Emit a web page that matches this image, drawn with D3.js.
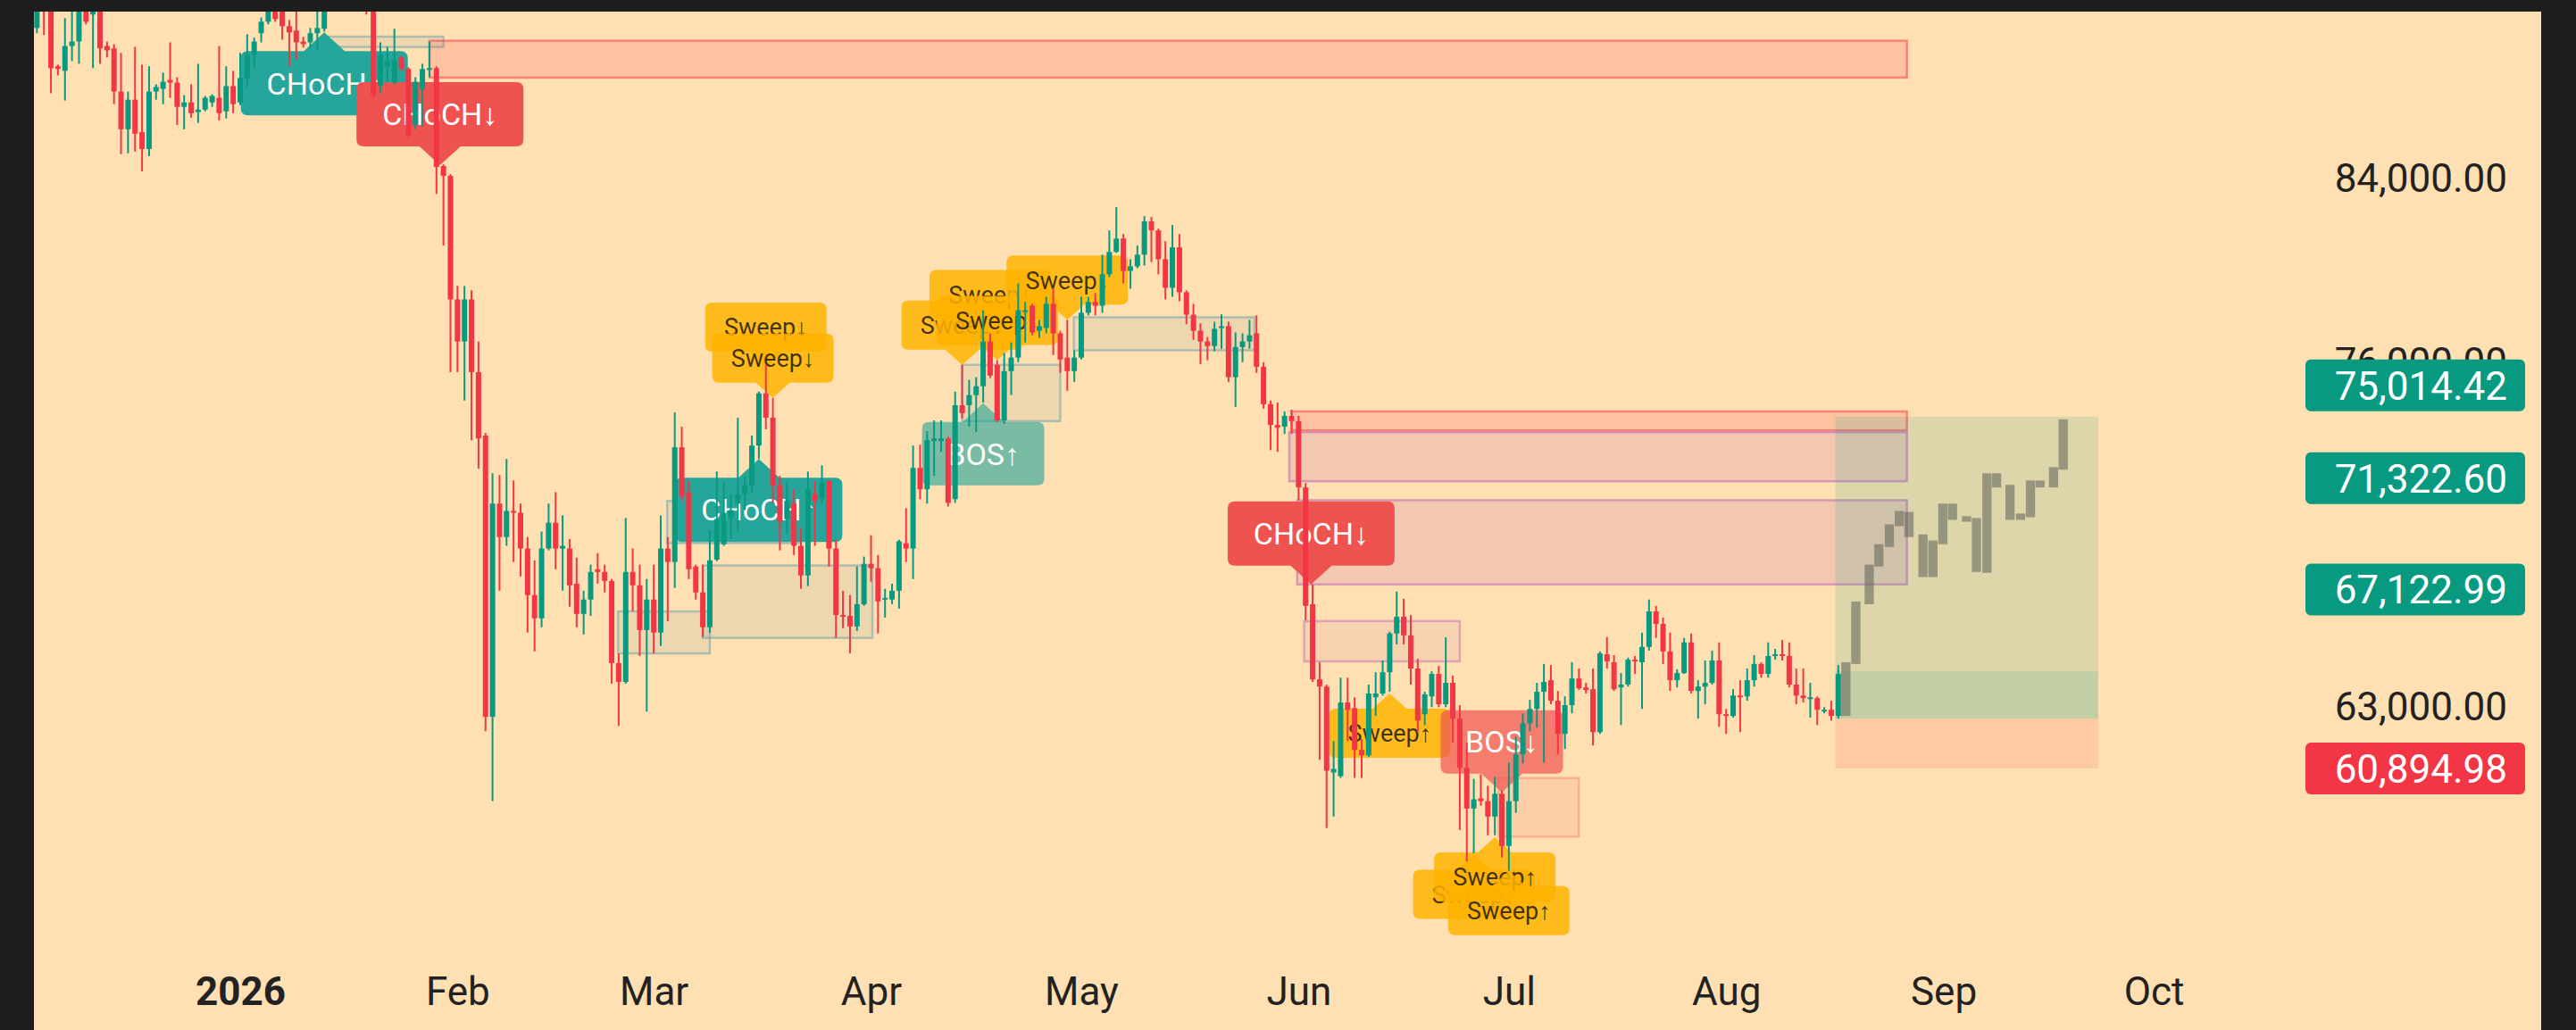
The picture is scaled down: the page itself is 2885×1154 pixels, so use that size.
<!DOCTYPE html>
<html>
<head>
<meta charset="utf-8">
<script src="https://cdn.jsdelivr.net/npm/d3@7"></script>
<style>
  html, body { margin: 0; padding: 0; background: #1e1e1e; }
  svg { display: block; font-family: Roboto, 'Noto Sans', sans-serif; }
</style>
</head>
<body>
<svg id="chart"></svg>
<script>
// daily bars, first bar 2025-12-03
const firstBar = Date.UTC(2025, 11, 3);

const open = [
  // Dec 3 - Dec 31
  91130, 92470, 92110, 89250, 89030, 90240, 90460, 92200, 91800, 92020,
  90240, 90120, 88030, 86240, 87640, 86110, 85320, 88030, 88160, 88590,
  88460, 87300, 87510, 87050, 87170, 87510, 87730, 87090, 88290,
  // Jan
  87510, 88680, 89810, 90870, 91440, 92200, 91970, 91220, 91000, 90460,
  90420, 90870, 91090, 92200, 94000, 95200, 94600, 93200, 92900, 92330,
  88290, 89250, 88460, 89680, 89120, 86450, 88160, 89120, 89160, 84530, 84080,
  // Feb
  78610, 76830, 78610, 75560, 72990, 62630, 70340, 69070, 70060, 69990,
  68640, 66920, 66080, 68640, 69610, 68640, 68640, 67340, 66240, 66760,
  67870, 67770, 67440, 64490, 63830, 67770, 67280, 65660,
  // Mar
  66760, 65570, 68640, 68140, 72530, 70780, 67970, 67020, 65760, 68230,
  68800, 69820, 70340, 70710, 71030, 72600, 74690, 73710, 71060, 69750,
  70340, 68740, 67640, 70710, 70540, 71200, 68640, 66200, 66170, 65790, 66590,
  // Apr
  68070, 67910, 66760, 66760, 67080, 68840, 68640, 71720, 70890, 72780,
  72780, 72880, 70510, 74210, 74210, 74620, 74980, 76830, 75860, 73600,
  75600, 76160, 78120, 78340, 77280, 77400, 78420, 77170, 76160, 75600,
  // May
  76160, 78040, 78500, 78340, 79690, 80670, 81260, 79840, 80040, 80550,
  82020, 81620, 80350, 79110, 80870, 78920, 77960, 77280, 76830, 76640,
  77400, 77470, 75350, 76600, 76830, 77170, 75780, 74250, 73420, 73350, 73780,
  // Jun
  73570, 70960, 66590, 63920, 63670, 60760, 60640, 63120, 62930, 61510,
  61330, 63300, 63430, 64170, 65540, 66140, 65470, 64300, 62720, 63330,
  64110, 63060, 63800, 62570, 60910, 59580, 59910, 59820, 59320, 60060,
  // Jul
  58380, 59820, 61360, 62410, 62900, 63490, 63890, 63180, 62050, 63030,
  63950, 63640, 63580, 62110, 64800, 64520, 63640, 63740, 64610, 64520,
  65060, 66330, 65880, 64900, 63890, 64140, 65220, 63520, 63670, 63800, 64580,
  // Aug 1 - Aug 17
  62720, 62660, 63360, 63330, 63890, 64460, 64110, 64740, 64800, 64740,
  63740, 63360, 63240, 63270, 62810, 62870, 62660
];

const high = [
  92470, 92780, 92330, 89330, 91620, 91970, 92330, 92420, 92330, 92200,
  90460, 90330, 89900, 88030, 90200, 89330, 89250, 88380, 88940, 90420,
  88720, 87860, 88380, 89370, 87820, 87900, 90240, 89250, 89030,
  89900, 90820, 90650, 91660, 92470, 92470, 92330, 91530, 91970, 90690,
  91130, 91970, 92560, 94500, 96000, 95800, 95100, 93800, 93500, 92560,
  90420, 90200, 91090, 89770, 89200, 88720, 89370, 90460, 89250, 84610, 84160,
  79190, 79190, 79000, 76830, 73100, 71510, 71440, 72070, 71230, 70340,
  69070, 68200, 69280, 70340, 70780, 69890, 69000, 68300, 67080, 68040,
  68470, 68040, 67510, 64830, 69790, 68640, 68040, 67510,
  68040, 69890, 69070, 73920, 73350, 71230, 68040, 68040, 69340, 71580,
  71130, 70680, 73710, 71370, 72990, 74760, 75860, 74510, 71410, 71200,
  70890, 69410, 71580, 71200, 71820, 71230, 68970, 67080, 66920, 67970, 68340,
  69140, 68400, 67150, 67340, 68970, 70160, 72600, 72630, 73170, 73600,
  73600, 72960, 74760, 75860, 75240, 75350, 78150, 77170, 76050, 76350,
  76790, 79300, 78500, 78420, 77740, 78720, 79110, 77280, 77740, 76460,
  78720, 78720, 78880, 80550, 81620, 82660, 81460, 80350, 80950, 82260,
  82220, 81700, 81140, 81860, 81460, 79000, 78420, 77590, 77020, 77660,
  77970, 77660, 77210, 77170, 77740, 77930, 75970, 74400, 74320, 73960, 74030,
  73780, 71130, 67310, 64520, 63740, 61810, 63980, 63980, 63300, 61870,
  63740, 64170, 64580, 65600, 67050, 66790, 66200, 64640, 63490, 64200,
  64390, 65400, 64050, 63030, 61750, 60550, 60700, 60320, 60610, 60170,
  61090, 61960, 62750, 63210, 63800, 64460, 64420, 63520, 63330, 64520,
  64300, 63800, 64300, 64900, 65410, 64770, 64140, 64680, 64740, 65570,
  66760, 66530, 66110, 65570, 64270, 65380, 65540, 63890, 64580, 64930, 65220,
  62900, 63580, 63890, 64300, 64770, 64520, 65220, 64990, 65310, 65220,
  64300, 64300, 63800, 63330, 62960, 63180, 64420
];

const low = [
  90870, 90780, 87950, 88810, 87600, 89500, 89370, 91310, 89160, 89370,
  89680, 87430, 85080, 85120, 85200, 84290, 84990, 87640, 87430, 87730,
  86450, 86240, 86790, 86540, 87090, 87300, 86660, 86750, 87000,
  87380, 88250, 89160, 90420, 91310, 91440, 90550, 89250, 89590, 90160,
  90120, 90030, 90950, 92000, 93500, 93900, 92600, 92500, 91800, 87730,
  87950, 88460, 88380, 89030, 85820, 86240, 86370, 88720, 83260, 80950, 75560,
  75560, 74400, 72810, 71690, 62140, 59820, 67080, 68740, 68140, 67610,
  65570, 64900, 65760, 68570, 67870, 67080, 66500, 65760, 65500, 66170,
  67340, 67020, 63770, 62320, 63770, 66330, 64740, 62810,
  64830, 65090, 65980, 67180, 70440, 67510, 66760, 65410, 65570, 68170,
  68740, 69000, 69310, 70090, 70780, 72070, 73240, 70340, 68570, 69170,
  68400, 67150, 67250, 68740, 70340, 67970, 65380, 65730, 64830, 65630, 66530,
  67410, 65540, 66110, 66590, 66430, 68140, 67510, 70510, 70340, 71410,
  72350, 70230, 70370, 73670, 73350, 73130, 74320, 75310, 73530, 73460,
  74620, 75970, 76790, 77090, 76980, 77170, 76270, 75530, 74800, 75160,
  76080, 77930, 77930, 78040, 79570, 80630, 79300, 79070, 79960, 80070,
  80230, 79690, 78610, 78720, 78530, 77550, 76900, 75890, 76050, 76420,
  76530, 75160, 74140, 75970, 76530, 75530, 74070, 72420, 72350, 73060, 73060,
  70470, 66010, 63830, 61180, 58950, 59320, 60580, 61810, 60580, 60580,
  61270, 62660, 63360, 63490, 65150, 65150, 63740, 62110, 62350, 62960,
  62960, 62960, 61750, 58890, 57890, 58150, 59670, 58720, 58720, 58010,
  57590, 59440, 61060, 62140, 62260, 61090, 63060, 61360, 61540, 62750,
  63550, 63430, 61660, 62050, 64300, 63520, 62350, 63670, 64110, 62900,
  64930, 65380, 64460, 63520, 63640, 64110, 63430, 62570, 63060, 63740, 62290,
  62050, 62600, 62110, 63180, 63670, 63980, 63980, 64610, 64580, 63640,
  63060, 63120, 62600, 62350, 62750, 62500, 62570
];

const close = [
  92200, 92020, 89160, 89120, 90240, 90460, 92110, 91440, 92110, 90120,
  90030, 88030, 86240, 87640, 86030, 85320, 88030, 88250, 88500, 88460,
  87300, 87510, 87000, 87170, 87730, 87820, 87000, 88290, 87430,
  88680, 89810, 90460, 91440, 92200, 91570, 91220, 90910, 90420, 90330,
  90870, 91130, 92200, 94000, 95200, 94600, 93200, 92900, 92330, 87860,
  89810, 89460, 89550, 89120, 85950, 88500, 89120, 89160, 84490, 84080, 78610,
  76830, 78610, 75560, 72880, 62630, 70340, 69070, 70060, 69990, 68640,
  66920, 66080, 68640, 69610, 68640, 68740, 67280, 66240, 66760, 67770,
  67770, 67440, 64490, 63830, 67770, 67280, 65660, 66760,
  65570, 68640, 68140, 72530, 70610, 67870, 67020, 65760, 68200, 69750,
  69990, 70090, 70680, 71060, 72600, 74690, 73710, 71030, 69650, 70440,
  68740, 67640, 70890, 70440, 71130, 68640, 66200, 66170, 65790, 66590, 68070,
  67910, 66690, 66820, 67080, 68910, 68640, 71720, 70890, 72810, 72880,
  72880, 70370, 74210, 73890, 74620, 74980, 76830, 75420, 73600, 75600,
  76160, 78150, 78150, 77210, 77470, 78420, 77170, 76080, 75600, 76160,
  78040, 78500, 78340, 79690, 80670, 81260, 79840, 80040, 80550, 82020,
  81620, 80350, 79110, 80870, 78920, 77960, 77280, 76830, 76640, 77360,
  77470, 75350, 76600, 76830, 77090, 75780, 74250, 73420, 73310, 73780, 73570,
  70960, 66530, 63920, 63670, 60820, 60880, 63120, 62870, 61510, 61330,
  63430, 63430, 64170, 65540, 66140, 65470, 64300, 62500, 63400, 64110,
  63060, 63800, 62570, 60910, 59580, 59880, 59820, 59320, 60060, 58380,
  59820, 61360, 62410, 62900, 63490, 63830, 63180, 62050, 63030, 63950,
  63610, 63550, 62110, 64830, 64550, 63580, 63740, 64610, 64550, 65060,
  66330, 65880, 64900, 63890, 64140, 65220, 63520, 63670, 63800, 64580, 62720,
  62660, 63360, 63330, 63890, 64460, 64110, 64740, 64800, 64740, 63740,
  63360, 63270, 63300, 62870, 62870, 62660, 64110
];

// projected path (grey bars)
const projTime = [
  '2026-08-18T02:00Z', '2026-08-19T12:00Z', '2026-08-21T10:00Z', '2026-08-22T19:00Z',
  '2026-08-24T07:00Z', '2026-08-25T17:00Z', '2026-08-27T02:00Z', '2026-08-29T02:00Z',
  '2026-08-30T12:00Z', '2026-08-31T22:00Z', '2026-09-02T07:00Z', '2026-09-04T07:00Z',
  '2026-09-05T17:00Z', '2026-09-07T05:00Z', '2026-09-08T14:00Z', '2026-09-10T12:00Z',
  '2026-09-12T00:00Z', '2026-09-13T10:00Z', '2026-09-14T19:00Z', '2026-09-16T17:00Z',
  '2026-09-18T02:00Z'
];
const projOpen = [62660, 64460, 66590, 67970, 68700, 69480, 70020, 69170, 67580, 68800,
  70340, 69650, 69790, 67740, 71510, 71060, 69720, 69820, 71230, 70960, 71650];
const projClose = [64520, 66690, 68040, 68800, 69550, 70060, 69070, 67580, 68940, 70340,
  69720, 69860, 67770, 71510, 70960, 69720, 69960, 71230, 70960, 71750, 73640];

// zones: kind, start, end, top, bottom
const zoneKind = ['demand', 'supply', 'demand', 'demand', 'demand', 'demand', 'demand',
  'supply', 'mauve', 'mauve', 'mauveLight', 'salmon'];
const zoneStart = ['2026-01-13', '2026-01-28', '2026-02-23T22:00Z', '2026-03-02T22:00Z',
  '2026-03-08', '2026-04-14', '2026-04-29T22:00Z', '2026-05-31', '2026-05-30T16:00Z',
  '2026-05-31T19:00Z', '2026-06-01T19:00Z', '2026-06-29T12:00Z'];
const zoneEnd = ['2026-01-30', '2026-08-26T19:00Z', '2026-03-09', '2026-03-22',
  '2026-04-01T05:00Z', '2026-04-28', '2026-05-25T17:00Z', '2026-08-26T19:00Z',
  '2026-08-26T19:00Z', '2026-08-26T19:00Z', '2026-06-24', '2026-07-11'];
const zoneTop = [90700, 90500, 66330, 70440, 68010, 75860, 77850, 73960, 73130, 70470, 65980, 60580];
const zoneBottom = [90190, 88700, 64830, 68840, 65380, 73570, 76460, 73200, 71200, 67310, 64550, 58670];

// long position tool
const posStart = '2026-08-16T14:00Z';
const posEnd = '2026-09-23T02:00Z';
const posTarget = 73750;
const posBand = 64200;
const posEntry = 62570;
const posStop = 60894.98;

// structure labels
const labelText = ['CHoCH↑', 'CHoCH↓', 'Sweep↓', 'Sweep↓', 'CHoCH↑', 'BOS↑', 'Sweep↓', 'Sweep↓',
  'Sweep↓', 'Sweep↓', 'CHoCH↓', 'Sweep↑', 'BOS↓', 'Sweep↑', 'Sweep↑', 'Sweep↑'];
const labelTime = ['2026-01-13', '2026-01-29T12:00Z', '2026-03-17', '2026-03-18', '2026-03-16',
  '2026-04-17', '2026-04-14', '2026-04-18', '2026-04-19', '2026-04-29', '2026-06-02T19:00Z',
  '2026-06-14', '2026-06-30', '2026-06-26', '2026-06-29', '2026-07-01'];
const labelPrice = [90910, 84570, 75780, 74510, 72070, 74290, 75860, 77130, 76050, 77740,
  67310, 63430, 60110, 58100, 58660, 57590];

const yTicks = [63000, 76000, 84000];
const monthTicks = ['2026-01-01', '2026-02-01', '2026-03-01', '2026-04-01', '2026-05-01',
  '2026-06-01', '2026-07-01', '2026-08-01', '2026-09-01', '2026-10-01'];

const priceTags = [75014.42, 71322.60, 67122.99, 60894.98];
const priceTagKind = ['up', 'up', 'up', 'down'];

// ---------------------------------------------------------------
const width = 2885, height = 1154;
const plot = { left: 38, top: 13, right: 2846, bottom: height };
const DAY = 86400000;
const toDate = (s) => new Date(s.length === 10 ? s + 'T00:00Z' : s);

const UP = '#089981', DOWN = '#f23645';

const svg = d3.select('#chart').attr('width', width).attr('height', height)
  .attr('viewBox', `0 0 ${width} ${height}`);

svg.append('rect').attr('width', width).attr('height', height).attr('fill', '#1e1e1e');
svg.append('rect')
  .attr('x', plot.left).attr('y', plot.top)
  .attr('width', plot.right - plot.left).attr('height', plot.bottom - plot.top)
  .attr('fill', '#ffe0b2');

svg.append('clipPath').attr('id', 'clip').append('rect')
  .attr('x', plot.left).attr('y', plot.top)
  .attr('width', plot.right - plot.left).attr('height', plot.bottom - plot.top);

const x = d3.scaleUtc()
  .domain([toDate('2026-01-01'), toDate('2026-10-01')])
  .range([269, 269 + 273 * 7.85]);

const y = d3.scaleLog()
  .domain([63000, 84000])
  .range([791, 199]);

const bars = open.map((o, i) => ({
  t: new Date(firstBar + i * DAY), o, h: high[i], l: low[i], c: close[i],
}));

const g = svg.append('g').attr('clip-path', 'url(#clip)');

// zones
const zoneStyle = {
  demand: { fill: 'rgba(120,144,156,0.13)', stroke: 'rgba(100,160,170,0.5)' },
  supply: { fill: 'rgba(242,54,69,0.17)', stroke: 'rgba(242,54,69,0.5)' },
  mauve: { fill: 'rgba(156,39,176,0.13)', stroke: 'rgba(156,39,176,0.35)' },
  mauveLight: { fill: 'rgba(156,39,176,0.07)', stroke: 'rgba(156,39,176,0.3)' },
  salmon: { fill: 'rgba(242,54,69,0.1)', stroke: 'rgba(242,54,69,0.25)' },
};
const zones = zoneKind.map((k, i) => ({
  k, s: toDate(zoneStart[i]), e: toDate(zoneEnd[i]), top: zoneTop[i], bot: zoneBottom[i],
}));
g.append('g').selectAll('rect').data(zones).join('rect')
  .attr('x', (d) => x(d.s))
  .attr('y', (d) => y(d.top))
  .attr('width', (d) => x(d.e) - x(d.s))
  .attr('height', (d) => y(d.bot) - y(d.top))
  .attr('fill', (d) => zoneStyle[d.k].fill)
  .attr('stroke', (d) => zoneStyle[d.k].stroke)
  .attr('stroke-width', 2.5);

// position tool
const px0 = x(toDate(posStart)), px1 = x(toDate(posEnd));
const pos = g.append('g');
pos.append('rect').attr('x', px0).attr('width', px1 - px0)
  .attr('y', y(posTarget)).attr('height', y(posEntry) - y(posTarget))
  .attr('fill', 'rgba(8,153,129,0.14)');
pos.append('rect').attr('x', px0).attr('width', px1 - px0)
  .attr('y', y(posBand)).attr('height', y(posEntry) - y(posBand))
  .attr('fill', 'rgba(8,153,129,0.12)');
pos.append('rect').attr('x', px0).attr('width', px1 - px0)
  .attr('y', y(posEntry)).attr('height', y(posStop) - y(posEntry))
  .attr('fill', 'rgba(242,54,69,0.13)');

// labels
function labelStyle(text) {
  const up = text.endsWith('↑');
  if (text.startsWith('CHoCH')) return { w: 187, h: 72, ph: 21, pw: 46, fs: 34, fill: up ? '#26a69a' : '#ef5350', txt: '#ffffff' };
  if (text.startsWith('BOS')) return { w: 137, h: 71, ph: 21, pw: 46, fs: 34, fill: up ? 'rgba(38,166,154,0.62)' : 'rgba(239,83,80,0.7)', txt: '#ffffff' };
  return { w: 136, h: 55, ph: 17, pw: 38, fs: 27, fill: 'rgba(255,179,0,0.85)', txt: 'rgba(30,25,15,0.85)' };
}
const labels = labelText.map((t, i) => ({ t, time: toDate(labelTime[i]), p: labelPrice[i] }));
const lg = g.append('g');
labels.forEach((d) => {
  const st = labelStyle(d.t);
  const up = d.t.endsWith('↑');
  const ax = x(d.time), ay = y(d.p);
  const bx = ax - st.w / 2;
  const by = up ? ay + st.ph : ay - st.ph - st.h;
  const r = 8;
  const left = bx, right = bx + st.w, top = by, bot = by + st.h;
  const hw = st.pw / 2;
  let path;
  if (up) {
    path = `M${left + r},${top} L${ax - hw},${top} L${ax},${ay} L${ax + hw},${top} L${right - r},${top}
      Q${right},${top} ${right},${top + r} L${right},${bot - r} Q${right},${bot} ${right - r},${bot}
      L${left + r},${bot} Q${left},${bot} ${left},${bot - r} L${left},${top + r} Q${left},${top} ${left + r},${top} Z`;
  } else {
    path = `M${left + r},${top} L${right - r},${top} Q${right},${top} ${right},${top + r}
      L${right},${bot - r} Q${right},${bot} ${right - r},${bot} L${ax + hw},${bot} L${ax},${ay} L${ax - hw},${bot}
      L${left + r},${bot} Q${left},${bot} ${left},${bot - r} L${left},${top + r} Q${left},${top} ${left + r},${top} Z`;
  }
  lg.append('path').attr('d', path).attr('fill', st.fill);
  lg.append('text')
    .attr('x', ax).attr('y', by + st.h / 2)
    .attr('dy', '0.36em')
    .attr('text-anchor', 'middle')
    .attr('font-size', st.fs)
    .attr('fill', st.txt)
    .text(d.t);
});

// candles
const bodyW = 6;
const cg = g.append('g');
cg.selectAll('line').data(bars).join('line')
  .attr('x1', (d) => x(d.t)).attr('x2', (d) => x(d.t))
  .attr('y1', (d) => y(d.h)).attr('y2', (d) => y(d.l))
  .attr('stroke', (d) => (d.c >= d.o ? UP : DOWN))
  .attr('stroke-width', 2);
cg.selectAll('rect').data(bars).join('rect')
  .attr('x', (d) => x(d.t) - bodyW / 2)
  .attr('y', (d) => y(Math.max(d.o, d.c)))
  .attr('width', bodyW)
  .attr('height', (d) => Math.max(2, y(Math.min(d.o, d.c)) - y(Math.max(d.o, d.c))))
  .attr('fill', (d) => (d.c >= d.o ? UP : DOWN));

// projected bars
const proj = projTime.map((t, i) => ({ t: toDate(t), o: projOpen[i], c: projClose[i] }));
const projW = 10.3;
g.append('g').selectAll('rect').data(proj).join('rect')
  .attr('x', (d) => x(d.t) - projW / 2)
  .attr('y', (d) => y(Math.max(d.o, d.c)))
  .attr('width', projW)
  .attr('height', (d) => y(Math.min(d.o, d.c)) - y(Math.max(d.o, d.c)))
  .attr('fill', 'rgba(105,105,95,0.6)');

// x axis
const xAxis = d3.axisBottom(x)
  .tickValues(monthTicks.map(toDate))
  .tickSize(0)
  .tickFormat((d) => (d.getUTCMonth() === 0 ? String(d.getUTCFullYear()) : d3.utcFormat('%b')(d)));
const xg = svg.append('g').attr('transform', 'translate(0,1110)').call(xAxis);
xg.select('.domain').remove();
xg.selectAll('text')
  .attr('y', 0).attr('dy', '0.36em')
  .attr('font-family', 'Roboto, sans-serif')
  .attr('font-size', 44)
  .attr('fill', '#222')
  .attr('font-weight', (d) => (d.getUTCMonth() === 0 ? 700 : 400));

// y axis
const yAxis = d3.axisRight(y).tickValues(yTicks).tickSize(0).tickFormat(d3.format(',.2f'));
const yg = svg.append('g').attr('transform', 'translate(2808,0)').call(yAxis);
yg.select('.domain').remove();
yg.selectAll('text')
  .attr('x', 0).attr('dy', '0.36em')
  .attr('text-anchor', 'end')
  .attr('font-family', 'Roboto, sans-serif')
  .attr('font-size', 44)
  .attr('fill', '#222');

// price tags
const tg = svg.append('g');
priceTags.forEach((p, i) => {
  const cy = y(p);
  tg.append('rect')
    .attr('x', 2582).attr('y', cy - 29).attr('width', 246).attr('height', 58)
    .attr('rx', 6)
    .attr('fill', priceTagKind[i] === 'up' ? UP : DOWN);
  tg.append('text')
    .attr('x', 2808).attr('y', cy).attr('dy', '0.36em')
    .attr('text-anchor', 'end')
    .attr('font-size', 44)
    .attr('fill', '#ffffff')
    .text(d3.format(',.2f')(p));
});
</script>
</body>
</html>
